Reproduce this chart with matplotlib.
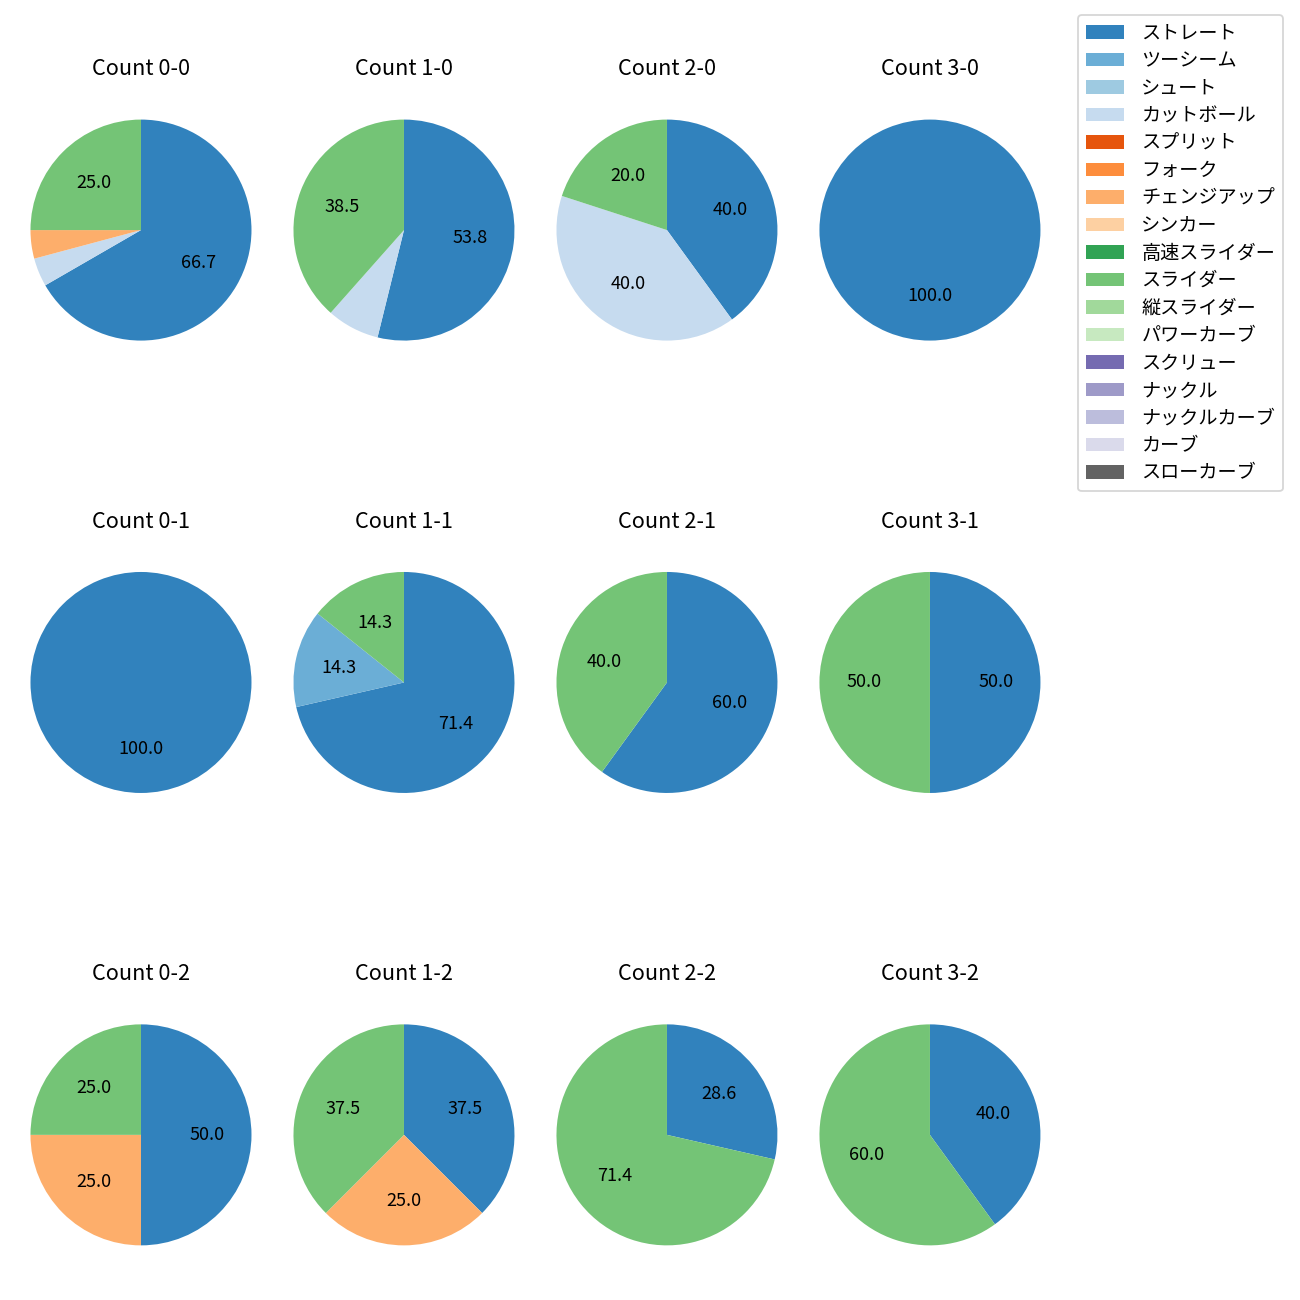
import matplotlib
matplotlib.use("Agg")
import matplotlib.pyplot as plt
from matplotlib.patches import Patch

plt.rcParams['font.family'] = ['Noto Sans CJK JP', 'DejaVu Sans']

pitch_names = ['ストレート', 'ツーシーム', 'シュート', 'カットボール', 'スプリット', 'フォーク',
               'チェンジアップ', 'シンカー', '高速スライダー', 'スライダー', '縦スライダー',
               'パワーカーブ', 'スクリュー', 'ナックル', 'ナックルカーブ', 'カーブ', 'スローカーブ']

count_labels = ['0-0', '1-0', '2-0', '3-0',
                '0-1', '1-1', '2-1', '3-1',
                '0-2', '1-2', '2-2', '3-2']

# pitches thrown per count (aligned with pitch_names)
c_0_0 = [16, 0, 0, 1, 0, 0, 1, 0, 0, 6, 0, 0, 0, 0, 0, 0, 0]
c_1_0 = [7, 0, 0, 1, 0, 0, 0, 0, 0, 5, 0, 0, 0, 0, 0, 0, 0]
c_2_0 = [2, 0, 0, 2, 0, 0, 0, 0, 0, 1, 0, 0, 0, 0, 0, 0, 0]
c_3_0 = [1, 0, 0, 0, 0, 0, 0, 0, 0, 0, 0, 0, 0, 0, 0, 0, 0]
c_0_1 = [1, 0, 0, 0, 0, 0, 0, 0, 0, 0, 0, 0, 0, 0, 0, 0, 0]
c_1_1 = [5, 1, 0, 0, 0, 0, 0, 0, 0, 1, 0, 0, 0, 0, 0, 0, 0]
c_2_1 = [3, 0, 0, 0, 0, 0, 0, 0, 0, 2, 0, 0, 0, 0, 0, 0, 0]
c_3_1 = [1, 0, 0, 0, 0, 0, 0, 0, 0, 1, 0, 0, 0, 0, 0, 0, 0]
c_0_2 = [2, 0, 0, 0, 0, 0, 1, 0, 0, 1, 0, 0, 0, 0, 0, 0, 0]
c_1_2 = [3, 0, 0, 0, 0, 0, 2, 0, 0, 3, 0, 0, 0, 0, 0, 0, 0]
c_2_2 = [2, 0, 0, 0, 0, 0, 0, 0, 0, 5, 0, 0, 0, 0, 0, 0, 0]
c_3_2 = [2, 0, 0, 0, 0, 0, 0, 0, 0, 3, 0, 0, 0, 0, 0, 0, 0]

count_values = [c_0_0, c_1_0, c_2_0, c_3_0,
                c_0_1, c_1_1, c_2_1, c_3_1,
                c_0_2, c_1_2, c_2_2, c_3_2]

cmap = plt.get_cmap('tab20c')
colors = [cmap(i) for i in range(len(pitch_names))]

fig = plt.figure(figsize=(10, 10), dpi=130)
gs = fig.add_gridspec(3, 4, left=0.0073, right=0.8165, top=0.9385, bottom=0.01154,
                      wspace=0.0, hspace=0.5067)


def autopct(p):
    return f'{p:.1f}' if p >= 10 else ''


for k, (lab, vals) in enumerate(zip(count_labels, count_values)):
    ax = fig.add_subplot(gs[k // 4, k % 4])
    idx = [i for i, v in enumerate(vals) if v > 0]
    ax.pie([vals[i] for i in idx], colors=[colors[i] for i in idx],
           startangle=90, counterclock=False, autopct=autopct)
    ax.set_xlim(-1.19, 1.19)
    ax.set_ylim(-1.19, 1.19)
    ax.set_title(f'Count {lab}', pad=13)

handles = [Patch(facecolor=c, label=n) for c, n in zip(colors, pitch_names)]
fig.legend(handles=handles, loc='upper right', bbox_to_anchor=(0.9869, 0.9885),
           borderaxespad=0, fontsize=10.6, labelspacing=0.34, handletextpad=0.9,
           borderpad=0.4)

fig.savefig('out.png', dpi=130)
